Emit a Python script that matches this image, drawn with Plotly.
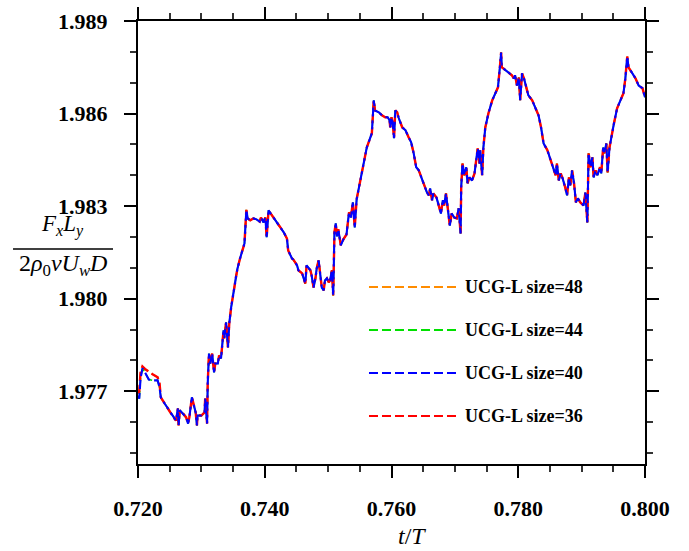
import plotly.graph_objects as go

# ---- data ----
t = [0.7200, 0.7202, 0.7204, 0.7207, 0.7211, 0.7217, 0.7223, 0.7231, 0.7234, 0.7236,
     0.7242, 0.7247, 0.7252, 0.7257, 0.7260, 0.7263, 0.7264, 0.7266, 0.7271, 0.7276,
     0.7279, 0.7281, 0.7285, 0.7287, 0.7291, 0.7293, 0.7294, 0.7300, 0.7305, 0.7306,
     0.7309, 0.7310, 0.7312, 0.7314, 0.7317, 0.7320, 0.7322, 0.7326, 0.7328, 0.7331,
     0.7335, 0.7336, 0.7339, 0.7342, 0.7344, 0.7347, 0.7350, 0.7352, 0.7355, 0.7357,
     0.7361, 0.7364, 0.7368, 0.7371, 0.7373, 0.7377, 0.7382, 0.7387, 0.7392, 0.7394,
     0.7398, 0.7401, 0.7403, 0.7406, 0.7408, 0.7414, 0.7419, 0.7424, 0.7430, 0.7435,
     0.7437, 0.7443, 0.7445, 0.7451, 0.7453, 0.7459, 0.7461, 0.7464, 0.7466, 0.7469,
     0.7472, 0.7474, 0.7477, 0.7480, 0.7482, 0.7485, 0.7487, 0.7490, 0.7493, 0.7495,
     0.7498, 0.7501, 0.7503, 0.7506, 0.7508, 0.7510, 0.7512, 0.7514, 0.7516, 0.7520,
     0.7524, 0.7529, 0.7533, 0.7536, 0.7539, 0.7542, 0.7545, 0.7550, 0.7553, 0.7556,
     0.7561, 0.7565, 0.7569, 0.7572, 0.7574, 0.7580, 0.7585, 0.7590, 0.7594, 0.7597,
     0.7598, 0.7600, 0.7602, 0.7604, 0.7606, 0.7609, 0.7611, 0.7617, 0.7622, 0.7627,
     0.7631, 0.7635, 0.7639, 0.7643, 0.7647, 0.7651, 0.7656, 0.7659, 0.7661, 0.7664,
     0.7666, 0.7671, 0.7674, 0.7678, 0.7681, 0.7683, 0.7686, 0.7689, 0.7692, 0.7695,
     0.7699, 0.7703, 0.7706, 0.7709, 0.7710, 0.7712, 0.7715, 0.7718, 0.7720, 0.7723,
     0.7727, 0.7731, 0.7733, 0.7736, 0.7739, 0.7740, 0.7743, 0.7745, 0.7748, 0.7753,
     0.7759, 0.7764, 0.7768, 0.7771, 0.7773, 0.7774, 0.7780, 0.7785, 0.7790, 0.7793,
     0.7795, 0.7798, 0.7801, 0.7803, 0.7806, 0.7809, 0.7813, 0.7816, 0.7822, 0.7827,
     0.7832, 0.7836, 0.7840, 0.7846, 0.7851, 0.7855, 0.7859, 0.7861, 0.7864, 0.7867,
     0.7870, 0.7874, 0.7877, 0.7880, 0.7882, 0.7885, 0.7888, 0.7891, 0.7894, 0.7898,
     0.7903, 0.7906, 0.7909, 0.7911, 0.7914, 0.7917, 0.7919, 0.7922, 0.7925, 0.7929,
     0.7931, 0.7934, 0.7936, 0.7939, 0.7941, 0.7944, 0.7947, 0.7951, 0.7956, 0.7961,
     0.7966, 0.7969, 0.7972, 0.7974, 0.7980, 0.7985, 0.7990, 0.7996, 0.8000]

y_40 = [1.97686, 1.97676, 1.97741, 1.97774, 1.97761, 1.97738, 1.97735, 1.97735, 1.97712, 1.97680,
        1.97660, 1.97644, 1.97628, 1.97612, 1.97605, 1.97644, 1.97589, 1.97638, 1.97628, 1.97615,
        1.97595, 1.97615, 1.97680, 1.97660, 1.97631, 1.97589, 1.97621, 1.97621, 1.97631, 1.97676,
        1.97595, 1.97725, 1.97822, 1.97790, 1.97822, 1.97761, 1.97790, 1.97790, 1.97816, 1.97806,
        1.97897, 1.97871, 1.97923, 1.97842, 1.97920, 1.97972, 1.98004, 1.98036, 1.98075, 1.98098,
        1.98130, 1.98150, 1.98179, 1.98288, 1.98260, 1.98254, 1.98260, 1.98257, 1.98250, 1.98263,
        1.98247, 1.98263, 1.98199, 1.98286, 1.98280, 1.98263, 1.98244, 1.98231, 1.98215, 1.98195,
        1.98156, 1.98130, 1.98127, 1.98108, 1.98092, 1.98082, 1.98066, 1.98049, 1.98108, 1.98098,
        1.98092, 1.98075, 1.98036, 1.98066, 1.98098, 1.98124, 1.98092, 1.98036, 1.98027, 1.98059,
        1.98066, 1.98053, 1.98059, 1.98092, 1.98010, 1.98215, 1.98244, 1.98202, 1.98225, 1.98173,
        1.98192, 1.98208, 1.98280, 1.98263, 1.98312, 1.98231, 1.98322, 1.98374, 1.98406, 1.98448,
        1.98490, 1.98513, 1.98536, 1.98643, 1.98610, 1.98604, 1.98594, 1.98588, 1.98588, 1.98578,
        1.98555, 1.98588, 1.98568, 1.98520, 1.98610, 1.98604, 1.98588, 1.98555, 1.98546, 1.98523,
        1.98507, 1.98471, 1.98426, 1.98416, 1.98393, 1.98374, 1.98344, 1.98335, 1.98357, 1.98319,
        1.98341, 1.98328, 1.98309, 1.98276, 1.98319, 1.98302, 1.98341, 1.98296, 1.98237, 1.98276,
        1.98263, 1.98260, 1.98293, 1.98211, 1.98361, 1.98438, 1.98400, 1.98426, 1.98374, 1.98393,
        1.98383, 1.98406, 1.98448, 1.98487, 1.98438, 1.98481, 1.98400, 1.98490, 1.98555, 1.98601,
        1.98643, 1.98669, 1.98685, 1.98750, 1.98798, 1.98750, 1.98740, 1.98734, 1.98724, 1.98714,
        1.98724, 1.98691, 1.98717, 1.98643, 1.98730, 1.98714, 1.98682, 1.98659, 1.98643, 1.98617,
        1.98594, 1.98555, 1.98503, 1.98481, 1.98448, 1.98426, 1.98400, 1.98438, 1.98383, 1.98406,
        1.98390, 1.98361, 1.98335, 1.98393, 1.98367, 1.98416, 1.98374, 1.98312, 1.98325, 1.98312,
        1.98302, 1.98344, 1.98247, 1.98471, 1.98426, 1.98458, 1.98393, 1.98416, 1.98400, 1.98426,
        1.98406, 1.98490, 1.98471, 1.98503, 1.98409, 1.98490, 1.98529, 1.98568, 1.98617, 1.98643,
        1.98666, 1.98714, 1.98785, 1.98750, 1.98730, 1.98714, 1.98691, 1.98682, 1.98653]

# size=36 (red) follows size=40 except where it visibly departs near the start
y_36_changes = {1: 1.97700, 2: 1.97760, 3: 1.97780, 4: 1.97772, 5: 1.97762,
                6: 1.97755, 7: 1.97745, 8: 1.97725}
y_36 = [y_36_changes.get(i, v) for i, v in enumerate(y_40)]
# size=48 and size=44 are hidden under the other two curves
y_48 = list(y_36)
y_44 = list(y_40)

series_names = ["UCG-L size=48", "UCG-L size=44", "UCG-L size=40", "UCG-L size=36"]
series_colors = ["#FF8C00", "#00E000", "#0000FF", "#FF0000"]
series_values = [y_48, y_44, y_40, y_36]

x_ticks = [0.720, 0.740, 0.760, 0.780, 0.800]
y_ticks = [1.977, 1.980, 1.983, 1.986, 1.989]

SERIF = "Liberation Serif"
DASH = "9px,4px"
SHIFTED = "0px,2px,9px,2px"

fig = go.Figure()
# hidden curves first (thin, under red), then red, then blue on top
line_styles = {0: (1.6, SHIFTED), 1: (1.6, SHIFTED), 3: (2.4, SHIFTED), 2: (2.1, DASH)}
for i in [0, 1, 3, 2]:
    w, d = line_styles[i]
    fig.add_trace(go.Scatter(
        x=t, y=series_values[i], mode="lines", name=series_names[i],
        line=dict(color=series_colors[i], width=w, dash=d),
        showlegend=False))

axis_common = dict(
    showline=True, linecolor="black", linewidth=2, mirror="ticks",
    ticks="outside", ticklen=12, tickwidth=2, tickcolor="black",
    showgrid=False, zeroline=False, automargin=False,
    tickfont=dict(family=SERIF, size=22, color="black", weight="bold"),
    tickformat=".3f",
)

fig.update_xaxes(range=[0.720, 0.800], tickvals=x_ticks, ticklabelstandoff=12,
                 minor=dict(dtick=0.005, tick0=0.72, ticklen=6, tickwidth=1.5,
                            tickcolor="#333", ticks="outside"),
                 **axis_common)
fig.update_yaxes(range=[1.97464, 1.989], tickvals=y_ticks, ticklabelstandoff=12,
                 minor=dict(dtick=0.001, tick0=1.977, ticklen=6, tickwidth=1.5,
                            tickcolor="#333", ticks="outside"),
                 **axis_common)

# legend drawn by hand (long line samples like the reference)
leg_rows = [0.3995, 0.3025, 0.2054, 0.1084]
shapes = []
annotations = []
for name, color, yp in zip(series_names, series_colors, leg_rows):
    shapes.append(dict(type="line", xref="paper", yref="paper",
                       x0=0.4556, x1=0.6351, y0=yp, y1=yp,
                       line=dict(color=color, width=2, dash=DASH)))
    annotations.append(dict(xref="paper", yref="paper", x=0.642, y=yp,
                            xanchor="left", yanchor="middle", showarrow=False,
                            text=name,
                            font=dict(family=SERIF, size=18, color="black",
                                      weight="bold")))

# y-axis label as a fraction
shapes.append(dict(type="line", xref="paper", yref="paper",
                   x0=-0.2465, x1=-0.0493, y0=0.4853, y1=0.4853,
                   line=dict(color="black", width=1.5)))
annotations.append(dict(xref="paper", yref="paper", x=-0.1499, y=0.5380,
                        xanchor="center", yanchor="middle", showarrow=False,
                        text="<i>F</i><sub><i>x</i></sub><i>L</i><sub><i>y</i></sub>",
                        font=dict(family=SERIF, size=23, color="black")))
annotations.append(dict(xref="paper", yref="paper", x=-0.1480, y=0.4492,
                        xanchor="center", yanchor="middle", showarrow=False,
                        text="2<i>ρ</i><sub>0</sub><i>νU</i><sub><i>w</i></sub><i>D</i>",
                        font=dict(family=SERIF, size=24, color="black")))
# x-axis title
annotations.append(dict(xref="paper", yref="paper", x=0.5404, y=-0.1960,
                        xanchor="center", yanchor="bottom", showarrow=False,
                        text="<i>t</i>/<i>T</i>",
                        font=dict(family=SERIF, size=24, color="black")))

fig.update_layout(
    width=689, height=551,
    margin=dict(l=138, r=44, t=21, b=87),
    paper_bgcolor="white", plot_bgcolor="white",
    shapes=shapes, annotations=annotations,
)

fig.write_html(
    "out.html",
    config={"displayModeBar": False},
    post_script=("document.body.style.margin='0';"
                 "document.body.style.padding='0';"
                 "var d=document.getElementById('{plot_id}');"
                 "d.style.position='absolute';d.style.top='0px';d.style.left='0px';"),
)
